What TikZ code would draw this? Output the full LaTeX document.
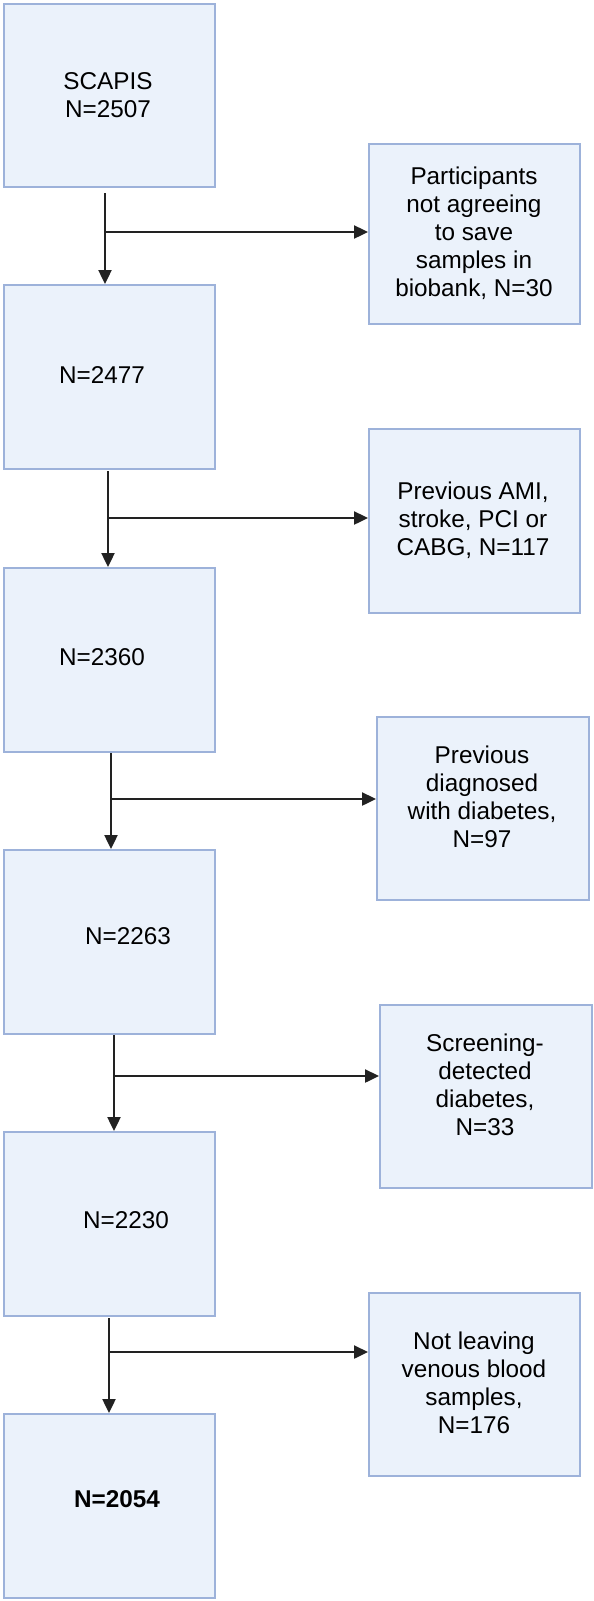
\documentclass[tikz,border=0pt]{standalone}
\usepackage{fontspec}
\setmainfont{Liberation Sans}
\usetikzlibrary{arrows.meta}
\definecolor{boxfill}{HTML}{EBF2FB}
\definecolor{boxline}{HTML}{9DB2DA}
\definecolor{arrcol}{HTML}{222222}
\begin{document}
\begin{tikzpicture}[x=1pt,y=-1pt,
  box/.style={draw=boxline,fill=boxfill,line width=2.2pt,inner sep=0pt,anchor=north west},
  lbox/.style={box,minimum width=211pt,minimum height=184pt},
  rbox/.style={box,minimum width=211pt,minimum height=183pt},
  txt/.style={font=\fontsize{24.3}{28}\selectfont,align=center,text=black,inner sep=0pt},
  arr/.style={draw=arrcol,line width=2.4pt,-{Triangle[length=14pt,width=13pt]}}]
\useasboundingbox[fill=white] (0,0) rectangle (594,1601);
% left boxes
\node[lbox,minimum height=183pt] (b1) at (3,3) {};
\node[lbox] (b2) at (3,284) {};
\node[lbox] (b3) at (3,567) {};
\node[lbox] (b4) at (3,849) {};
\node[lbox] (b5) at (3,1131) {};
\node[lbox] (b6) at (3,1413) {};
% right boxes
\node[rbox,minimum height=180pt] (r1) at (368,143) {};
\node[rbox,minimum height=184pt] (r2) at (368,428) {};
\node[rbox,minimum width=212pt] (r3) at (376,716) {};
\node[rbox,minimum width=212pt] (r4) at (379,1004) {};
\node[rbox] (r5) at (368,1292) {};
% texts
\node[txt] (t1) at (108,95) {SCAPIS\\N=2507};
\node[txt] (t2) at (102,375) {N=2477};
\node[txt] (t3) at (102,657) {N=2360};
\node[txt] (t4) at (128,936) {N=2263};
\node[txt] (t5) at (126,1220) {N=2230};
\node[txt] (t6) at (117,1499) {\textbf{N=2054}};
\node[txt] (rt1) at (474,233) {Participants\\not agreeing\\to save\\samples in\\biobank, N=30};
\node[txt] (rt2) at (473,520) {Previous AMI,\\stroke, PCI or\\CABG, N=117};
\node[txt] (rt3) at (482,797) {Previous\\diagnosed\\with diabetes,\\N=97};
\node[txt] (rt4) at (485,1085) {Screening-\\detected\\diabetes,\\N=33};
\node[txt] (rt5) at (474,1383) {Not leaving\\venous blood\\samples,\\N=176};
% connectors
\coordinate (a1) at (105,193); \coordinate (c1) at (105,232);
\draw[arr] (a1) -- (a1 |- b2.north);
\draw[arr] (c1) -- (c1 -| r1.west);
\coordinate (a2) at (108,471); \coordinate (c2) at (108,518);
\draw[arr] (a2) -- (a2 |- b3.north);
\draw[arr] (c2) -- (c2 -| r2.west);
\coordinate (a3) at (111,753); \coordinate (c3) at (111,799);
\draw[arr] (a3) -- (a3 |- b4.north);
\draw[arr] (c3) -- (c3 -| r3.west);
\coordinate (a4) at (114,1035); \coordinate (c4) at (114,1076);
\draw[arr] (a4) -- (a4 |- b5.north);
\draw[arr] (c4) -- (c4 -| r4.west);
\coordinate (a5) at (109,1318); \coordinate (c5) at (109,1352);
\draw[arr] (a5) -- (a5 |- b6.north);
\draw[arr] (c5) -- (c5 -| r5.west);
\end{tikzpicture}
\end{document}
